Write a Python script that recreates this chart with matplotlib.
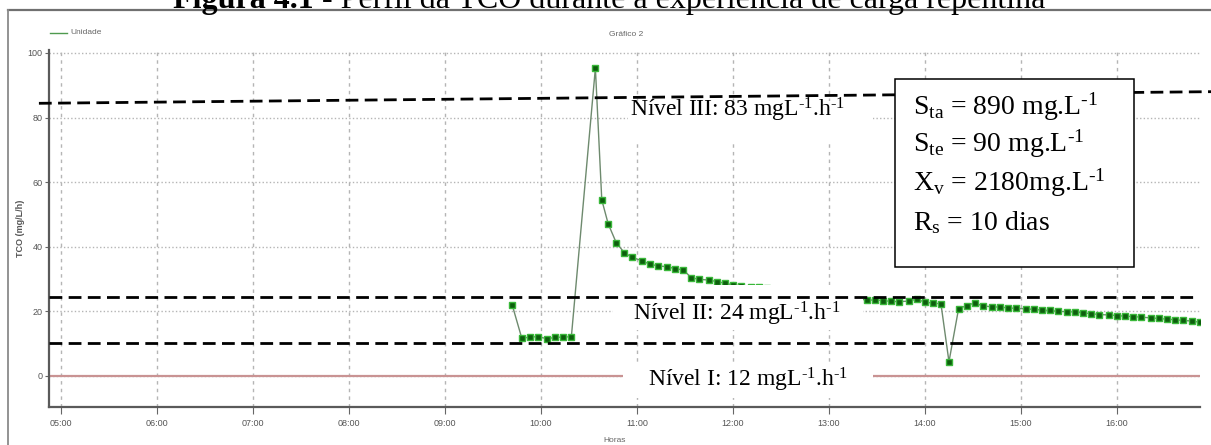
import matplotlib
matplotlib.use("Agg")
import matplotlib.pyplot as plt
from matplotlib.patches import Rectangle
from matplotlib.lines import Line2D
from matplotlib.ticker import FuncFormatter

plt.rcParams['mathtext.fontset'] = 'custom'
plt.rcParams['mathtext.rm'] = 'Liberation Serif'
plt.rcParams['mathtext.it'] = 'Liberation Serif:italic'
plt.rcParams['mathtext.bf'] = 'Liberation Serif:bold'

# ---------------- data ----------------
times = ["09:42", "09:48", "09:53", "09:58", "10:04", "10:09", "10:14", "10:19",
         "10:34", "10:38", "10:42", "10:47", "10:52", "10:57", "11:03", "11:08",
         "11:13", "11:19", "11:24", "11:29", "11:34", "11:39", "11:45", "11:50",
         "11:55", "12:00", "12:05", "12:11",
         "12:16", "12:21", "12:26", "12:31", "12:37", "12:42", "12:47", "12:52",
         "12:57", "13:03", "13:08", "13:13", "13:18",
         "13:24", "13:29", "13:34", "13:39", "13:44", "13:50", "13:55", "14:00",
         "14:05", "14:10", "14:15",
         "14:21", "14:26", "14:31", "14:36", "14:42", "14:47", "14:52", "14:57",
         "15:03", "15:08", "15:13", "15:18", "15:23", "15:29", "15:34", "15:39",
         "15:44", "15:49", "15:55", "16:00", "16:05", "16:10", "16:15", "16:21",
         "16:26", "16:31", "16:36", "16:41", "16:47", "16:52"]
tco = [22.0, 11.7, 12.0, 12.2, 11.5, 12.0, 12.0, 12.2,
       95.3, 54.5, 47.1, 41.3, 38.2, 36.7, 35.7, 34.6,
       34.1, 33.8, 33.2, 32.8, 30.4, 29.9, 29.7, 29.2,
       28.7, 28.2, 27.9, 27.6,
       27.4, 27.2, 27.0, 26.7, 26.5, 26.2, 26.0, 25.7,
       25.4, 25.0, 24.7, 24.4, 24.0,
       23.4, 23.6, 23.3, 23.1, 23.0, 23.2, 23.8, 22.8,
       22.6, 22.3, 4.4,
       20.8, 21.8, 22.6, 21.7, 21.4, 21.3, 21.1, 20.9,
       20.8, 20.6, 20.4, 20.3, 20.0, 19.9, 19.8, 19.5,
       19.3, 19.0, 18.9, 18.7, 18.5, 18.4, 18.2, 18.0,
       17.8, 17.6, 17.4, 17.2, 17.0, 16.6]

hour_ticks = [5, 6, 7, 8, 9, 10, 11, 12, 13, 14, 15, 16]
y_ticks = [0, 20, 40, 60, 80, 100]

nivel_labels = [r"Nível I: 12 mgL$^{\text{-1}}$.h$^{\text{-1}}$",
                r"Nível II: 24 mgL$^{\text{-1}}$.h$^{\text{-1}}$",
                r"Nível III: 83 mgL$^{\text{-1}}$.h$^{\text{-1}}$"]
nivel_line_start = [10.3, 24.5, 84.4]
nivel_line_end = [10.3, 24.5, 88.0]

info_lines = [r"S$_{\text{ta}}$ = 890 mg.L$^{\text{-1}}$",
              r"S$_{\text{te}}$ = 90 mg.L$^{\text{-1}}$",
              r"X$_{\text{v}}$ = 2180mg.L$^{\text{-1}}$",
              r"R$_{\text{s}}$ = 10 dias"]

title_bold = "Figura 4.1"
title_rest = " - Perfil da TCO durante a experiência de carga repentina"

# ---------------- figure ----------------
W, H = 1211, 445
fig = plt.figure(figsize=(W / 100, H / 100), dpi=100)


def fx(x):
    return x / W


def fy(y):
    return 1 - y / H


ax = fig.add_axes([fx(49), fy(407), fx(1200) - fx(49), fy(50) - fy(407)])
hrs = [int(t[:2]) + int(t[3:]) / 60 for t in times]

ax.set_xlim(4.875, 16.865)
ax.set_ylim(-9.6, 100.9)

# grid
for h in hour_ticks:
    ax.axvline(h, color='#b5b5b5', lw=1.0, ls=(0, (2.5, 3)), zorder=0.5)
for v in y_ticks:
    ax.axhline(v, color='#b5b5b5', lw=1.0, ls=(0, (1, 1.6)), zorder=0.5)

ax.axhline(0, color='#c99393', lw=1.6, zorder=1)

ax.plot(hrs, tco, color='#6e8a6e', lw=1.0, marker='s', markersize=4.8,
        markerfacecolor='#0d5e0d', markeredgecolor='#3ab83a', markeredgewidth=1.0,
        zorder=2)

# spines and ticks
for s in ['top', 'right']:
    ax.spines[s].set_visible(False)
for s in ['left', 'bottom']:
    ax.spines[s].set_color('#5a5a5a')
    ax.spines[s].set_linewidth(1.6)
ax.set_xticks(hour_ticks)
ax.xaxis.set_major_formatter(FuncFormatter(lambda v, p: "%02d:00" % int(round(v))))
ax.set_yticks(y_ticks)
ax.tick_params(axis='x', length=5, width=0.8, colors='#666666', labelsize=6.5,
               labelcolor='#555555', pad=4)
ax.tick_params(axis='y', length=3, width=0.8, colors='#666666', labelsize=6.5,
               labelcolor='#555555', pad=1.5)
for lab in ax.get_xticklabels() + ax.get_yticklabels():
    lab.set_fontfamily('Liberation Sans')

# white label boxes (covering chart content)
for (x0, y0, x1, y1) in [(613, 285, 863, 330), (623, 363, 873, 398), (628, 101, 873, 144)]:
    ax.add_patch(Rectangle((fx(x0), fy(y1)), fx(x1) - fx(x0), fy(y0) - fy(y1),
                           transform=fig.transFigure, facecolor='white',
                           edgecolor='none', zorder=3, clip_on=False))

# dashed level lines
x_starts = [4.875, 4.875, 4.77]
x_ends = [16.80, 16.85, 16.98]
for xs, xe, ys, ye in zip(x_starts, x_ends, nivel_line_start, nivel_line_end):
    ax.plot([xs, xe], [ys, ye], color='black', lw=2.0, dashes=(4.6, 2.3),
            zorder=4, clip_on=False, solid_capstyle='butt', dash_capstyle='butt')

# level labels
label_pos = [(648, 387), (633, 320), (630, 117)]
for lab, (x, y) in zip(nivel_labels, label_pos):
    fig.text(fx(x), fy(y), lab, fontsize=17, family='Liberation Serif',
             ha='left', va='baseline', zorder=5)

# info box
ax.add_patch(Rectangle((fx(895), fy(267)), fx(1134) - fx(895), fy(79) - fy(267),
                       transform=fig.transFigure, facecolor='white', edgecolor='black',
                       lw=1.1, zorder=6, clip_on=False))
info_y = [115, 152, 191, 230]
for txt, y in zip(info_lines, info_y):
    ax.text(fx(913), fy(y), txt, transform=fig.transFigure, fontsize=20,
            family='Liberation Serif', ha='left', va='baseline', zorder=7)

# small chart texts
fig.add_artist(Line2D([fx(50), fx(67)], [fy(33), fy(33)], color='#4f9a4f', lw=1.0))
fig.text(fx(70), fy(33), "Unidade", fontsize=6, color='#666666', va='center',
         family='Liberation Sans')
fig.text(fx(626), fy(35), "Gráfico 2", fontsize=6, color='#666666', va='center',
         ha='center', family='Liberation Sans')
fig.text(fx(21), fy(228), "TCO (mg/L/h)", fontsize=6.5, color='#555555', rotation=90,
         ha='center', va='center', family='Liberation Sans', fontweight='bold')
fig.text(fx(615), fy(441), "Horas", fontsize=6, color='#666666', ha='center',
         va='center', family='Liberation Sans')

# screenshot frame
fig.add_artist(Line2D([fx(8), 1.0], [fy(10), fy(10)], color='#707070', lw=1.6))
fig.add_artist(Line2D([fx(8), fx(8)], [fy(10), 0.0], color='#8a8a8a', lw=1.3))

# cut-off title
t1 = fig.text(fx(173), fy(8), title_bold, fontsize=23, family='Liberation Serif',
              fontweight='bold', ha='left', va='baseline')
fig.canvas.draw()
bb = t1.get_window_extent()
fig.text(bb.x1 / W, fy(8), title_rest, fontsize=23, family='Liberation Serif',
         ha='left', va='baseline')

fig.savefig("out.png", dpi=100)
